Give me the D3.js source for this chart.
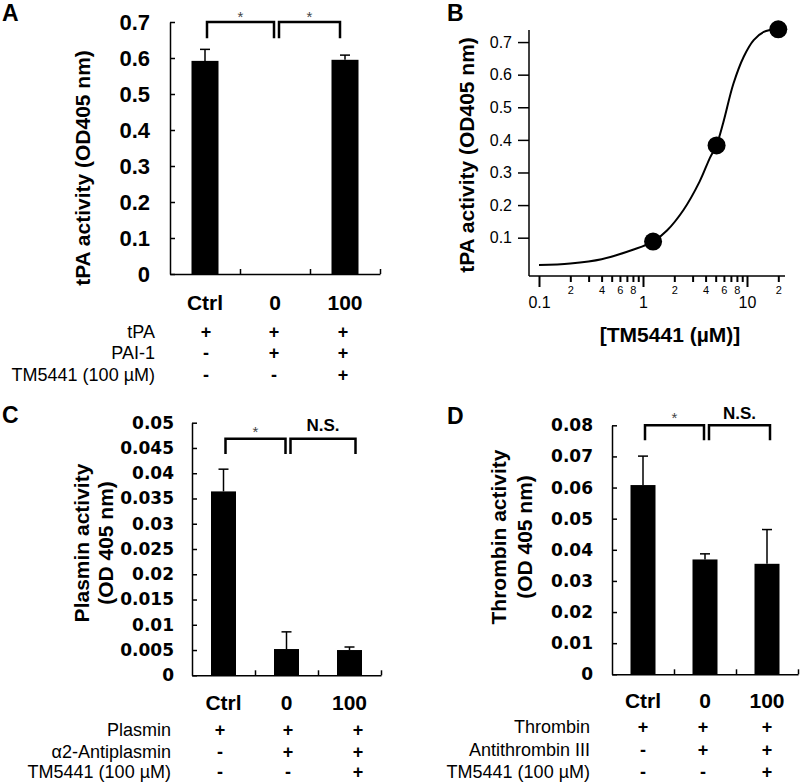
<!DOCTYPE html>
<html><head><meta charset="utf-8">
<script src="https://cdn.jsdelivr.net/npm/d3@7"></script>
<style>
body{margin:0;background:#fff}
svg{display:block;font-family:"Liberation Sans",Arial,Helvetica,sans-serif}
</style>
</head><body>
<svg id="chart" width="800" height="784"></svg>
<script>
// ---------- data ----------
const categories = ["Ctrl", "0", "100"];

const tpaMean = [0.592, 0, 0.595];
const tpaErr = [0.032, 0, 0.013];
const tpaTicks = [0, 0.1, 0.2, 0.3, 0.4, 0.5, 0.6, 0.7];
const tpaRows = ["tPA", "PAI-1", "TM5441 (100 µM)"];
const tpaSigns = [["+", "+", "+"], ["-", "+", "+"], ["-", "-", "+"]];
const tpaSig = [{from: 0, to: 1, label: "*"}, {from: 1, to: 2, label: "*"}];

const plasminMean = [0.0364, 0.0052, 0.0050];
const plasminErr = [0.0044, 0.0034, 0.0006];
const plasminTicks = [0, 0.005, 0.01, 0.015, 0.02, 0.025, 0.03, 0.035, 0.04, 0.045, 0.05];
const plasminRows = ["Plasmin", "α2-Antiplasmin", "TM5441 (100 µM)"];
const plasminSigns = [["+", "+", "+"], ["-", "+", "+"], ["-", "-", "+"]];
const plasminSig = [{from: 0, to: 1, label: "*"}, {from: 1, to: 2, label: "N.S."}];

const thrombinMean = [0.0608, 0.0369, 0.0355];
const thrombinErr = [0.0093, 0.0018, 0.0110];
const thrombinTicks = [0, 0.01, 0.02, 0.03, 0.04, 0.05, 0.06, 0.07, 0.08];
const thrombinRows = ["Thrombin", "Antithrombin III", "TM5441 (100 µM)"];
const thrombinSigns = [["+", "+", "+"], ["-", "+", "+"], ["-", "-", "+"]];
const thrombinSig = [{from: 0, to: 1, label: "*"}, {from: 1, to: 2, label: "N.S."}];

// Panel B: dose response
const doseX = [1.25, 5.1, 20];
const doseY = [0.088, 0.383, 0.739];
const fitX = [0.1, 0.2, 0.4, 0.8, 1.25, 1.7, 2.45, 3.5, 4.4, 5.1, 5.9, 7.4, 9.3, 11.6, 14.5, 19.4];
const fitY = [0.016, 0.021, 0.034, 0.063, 0.088, 0.122, 0.185, 0.272, 0.345, 0.385, 0.452, 0.572, 0.655, 0.706, 0.731, 0.739];
const doseYTicks = [0.1, 0.2, 0.3, 0.4, 0.5, 0.6, 0.7];
const doseMajor = [0.1, 1, 10];
const doseMinor = [0.2, 0.3, 0.4, 0.5, 0.6, 0.7, 0.8, 0.9, 2, 3, 4, 5, 6, 7, 8, 9, 20];
const doseMinorLabeled = [0.2, 0.4, 0.6, 0.8, 2, 4, 6, 8, 20];

// ---------- drawing ----------
const svg = d3.select("#chart");
const SANS = "Liberation Sans, Arial, Helvetica, sans-serif";

function barPanel(o) {
  const g = svg.append("g");
  const x = d3.scaleBand().domain(categories).range([o.x0, o.x1]);
  const xi = d3.scaleLinear().domain([0, categories.length]).range([o.x0, o.x1]);
  const y = d3.scaleLinear().domain([0, o.max]).range([o.yBottom, o.yTop]);
  const cx = c => x(c) + x.bandwidth() / 2;

  // y axis (ticks inward)
  const ya = g.append("g").attr("transform", `translate(${o.x0},0)`)
    .call(d3.axisLeft(y).tickValues(o.ticks).tickSizeInner(-5).tickSizeOuter(0)
      .tickPadding(o.tickPad).tickFormat(d => String(d)));
  ya.selectAll("path,line").attr("stroke", "#000").attr("stroke-width", 1.5);
  ya.selectAll("text").attr("font-family", o.tickFamily).attr("font-size", o.tickSize)
    .attr("font-weight", "bold").attr("fill", "#000");

  // x axis (boundary ticks inward)
  const xa = g.append("g").attr("transform", `translate(0,${o.yBottom})`)
    .call(d3.axisBottom(xi).tickValues(d3.range(1, categories.length + 1)).tickSizeInner(-5)
      .tickSizeOuter(0).tickFormat(""));
  xa.selectAll("path,line").attr("stroke", "#000").attr("stroke-width", 1.5);

  // bars
  g.selectAll("rect.bar").data(categories).join("rect").attr("class", "bar")
    .attr("x", c => cx(c) - o.barW / 2).attr("width", o.barW)
    .attr("y", (c, i) => y(o.mean[i])).attr("height", (c, i) => y(0) - y(o.mean[i]))
    .attr("fill", "#000");

  // error bars (upper only)
  categories.forEach((c, i) => {
    if (o.err[i] <= 0) return;
    const top = y(o.mean[i] + o.err[i]);
    g.append("line").attr("x1", cx(c)).attr("x2", cx(c)).attr("y1", y(o.mean[i])).attr("y2", top)
      .attr("stroke", "#000").attr("stroke-width", 1.5);
    g.append("line").attr("x1", cx(c) - 5).attr("x2", cx(c) + 5).attr("y1", top).attr("y2", top)
      .attr("stroke", "#000").attr("stroke-width", 1.5);
  });

  // significance brackets
  o.sig.forEach((s, k) => {
    const x1 = cx(categories[s.from]) + (k === 0 ? 2 : 4);
    const x2 = cx(categories[s.to]) - (k === 0 ? 1 : -o.rightShift);
    const yt = y(o.brTop), yb = y(o.brBottom);
    g.append("path").attr("d", `M${x1},${yb}V${yt}H${x2}V${yb}`)
      .attr("fill", "none").attr("stroke", "#000").attr("stroke-width", 2.5);
    const isStar = s.label === "*";
    g.append("text").attr("x", (x1 + x2) / 2)
      .attr("y", yt - (isStar ? o.starGap : o.nsGap))
      .attr("text-anchor", "middle")
      .attr("font-size", isStar ? 15 : 17)
      .attr("font-weight", isStar ? "normal" : "bold")
      .attr("fill", isStar ? "#444" : "#000")
      .text(s.label);
  });

  // category labels
  g.selectAll("text.cat").data(categories).join("text").attr("class", "cat")
    .attr("x", c => cx(c)).attr("y", o.catY).attr("text-anchor", "middle")
    .attr("font-size", 21).attr("font-weight", "bold").text(c => c);

  // condition rows
  o.rows.forEach((r, ri) => {
    g.append("text").attr("x", o.rowRight).attr("y", o.rowY[ri]).attr("dy", "0.36em")
      .attr("text-anchor", "end").attr("font-size", 18).text(r);
    categories.forEach((c, ci) => {
      g.append("text").attr("x", o.signX ? o.signX[ci] : cx(c)).attr("y", o.rowY[ri]).attr("dy", "0.36em")
        .attr("text-anchor", "middle").attr("font-size", 18).attr("font-weight", "bold")
        .text(o.signs[ri][ci]);
    });
  });

  // y title
  o.title.forEach((t, ti) => {
    g.append("text").attr("transform", `translate(${o.titleX[ti]},${o.titleY}) rotate(-90)`)
      .attr("text-anchor", "middle").attr("dy", "0.36em")
      .attr("font-size", 21).attr("font-weight", "bold").text(t);
  });

  // panel letter
  g.append("text").attr("x", o.letterX).attr("y", o.letterY).attr("font-size", 23)
    .attr("font-weight", "bold").text(o.letter);
}

barPanel({
  x0: 170, x1: 380, yTop: 22, yBottom: 274, max: 0.7,
  mean: tpaMean, err: tpaErr, ticks: tpaTicks,
  tickFamily: SANS, tickSize: 22, tickPad: 20,
  barW: 27, sig: tpaSig, brTop: 0.7, brBottom: 0.655, rightShift: -5,
  starGap: 0.5, nsGap: 6,
  catY: 310, rows: tpaRows, signs: tpaSigns, rowRight: 155, rowY: [332, 353, 375],
  signX: [206, 274, 343],
  title: ["tPA activity (OD405 nm)"], titleX: [82], titleY: 168,
  letter: "A", letterX: 2, letterY: 21
});

barPanel({
  x0: 192, x1: 381, yTop: 422.7, yBottom: 675.3, max: 0.05,
  mean: plasminMean, err: plasminErr, ticks: plasminTicks,
  tickFamily: "DejaVu Sans, sans-serif", tickSize: 17, tickPad: 18,
  barW: 25, sig: plasminSig, brTop: 0.0468, brBottom: 0.0438, rightShift: 6,
  starGap: 2, nsGap: 8,
  catY: 710, rows: plasminRows, signs: plasminSigns, rowRight: 171, rowY: [730, 752, 772],
  signX: [220, 288, 358],
  title: ["Plasmin activity", "(OD 405 nm)"], titleX: [81, 105], titleY: 543,
  letter: "C", letterX: 2, letterY: 423
});

barPanel({
  x0: 612, x1: 798, yTop: 425.3, yBottom: 674.3, max: 0.08,
  mean: thrombinMean, err: thrombinErr, ticks: thrombinTicks,
  tickFamily: "DejaVu Sans, sans-serif", tickSize: 17, tickPad: 19,
  barW: 25, sig: thrombinSig, brTop: 0.08, brBottom: 0.0752, rightShift: 3,
  starGap: 2, nsGap: 6,
  catY: 708, rows: thrombinRows, signs: thrombinSigns, rowRight: 590, rowY: [727, 750, 772],
  signX: [643, 703, 767],
  title: ["Thrombin activity", "(OD 405 nm)"], titleX: [498, 524], titleY: 537,
  letter: "D", letterX: 447, letterY: 424
});

// ---------- Panel B ----------
(function () {
  const g = svg.append("g");
  const x = d3.scaleLog().domain([0.1, 20]).range([539, 778.3]);
  const y = d3.scaleLinear().domain([-0.0175, 0.737]).range([276, 30]);
  const xAxisY = 276, yAxisX = 529;

  // axis lines
  g.append("line").attr("x1", yAxisX).attr("x2", yAxisX).attr("y1", y.range()[1]).attr("y2", xAxisY)
    .attr("stroke", "#000").attr("stroke-width", 1.5);
  g.append("line").attr("x1", yAxisX).attr("x2", 785).attr("y1", xAxisY).attr("y2", xAxisY)
    .attr("stroke", "#000").attr("stroke-width", 1.5);

  // y axis ticks
  const ya = g.append("g").attr("transform", `translate(${yAxisX},0)`)
    .call(d3.axisLeft(y).tickValues(doseYTicks).tickSizeInner(11).tickSizeOuter(0).tickPadding(6)
      .tickFormat(d3.format(".1f")));
  ya.select(".domain").remove();
  ya.selectAll("line").attr("stroke", "#000").attr("stroke-width", 1.5);
  ya.selectAll("text").attr("font-family", SANS).attr("font-size", 16).attr("fill", "#000");

  // x major ticks
  const xa = g.append("g").attr("transform", `translate(0,${xAxisY})`)
    .call(d3.axisBottom(x).tickValues(doseMajor).tickSizeInner(11).tickSizeOuter(0).tickPadding(10)
      .tickFormat(d => d === 0.1 ? "0.1" : String(d)));
  xa.select(".domain").remove();
  xa.selectAll("line").attr("stroke", "#000").attr("stroke-width", 2);
  xa.selectAll("text").attr("font-family", SANS).attr("font-size", 16).attr("fill", "#000");

  // x minor ticks
  const xm = g.append("g").attr("transform", `translate(0,${xAxisY})`)
    .call(d3.axisBottom(x).tickValues(doseMinor).tickSizeInner(6).tickSizeOuter(0).tickPadding(4)
      .tickFormat(d => doseMinorLabeled.includes(d) ? String(Math.round(d / Math.pow(10, Math.floor(Math.log10(d) + 1e-9)))) : ""));
  xm.select(".domain").remove();
  xm.selectAll("line").attr("stroke", "#000").attr("stroke-width", 2);
  xm.selectAll("text").attr("font-family", SANS).attr("font-size", 11).attr("fill", "#000");

  // fitted curve
  const fit = fitX.map((v, i) => [v, fitY[i]]);
  g.append("path").datum(fit)
    .attr("d", d3.line().x(d => x(d[0])).y(d => y(d[1])).curve(d3.curveCatmullRom.alpha(0.5)))
    .attr("fill", "none").attr("stroke", "#000").attr("stroke-width", 2);

  // points
  g.selectAll("circle").data(doseX.map((v, i) => [v, doseY[i]])).join("circle")
    .attr("cx", d => x(d[0])).attr("cy", d => y(d[1])).attr("r", 9).attr("fill", "#000");

  // titles
  g.append("text").attr("x", 670).attr("y", 342).attr("text-anchor", "middle")
    .attr("font-size", 21).attr("font-weight", "bold").text("[TM5441 (µM)]");
  g.append("text").attr("transform", `translate(466,155) rotate(-90)`).attr("text-anchor", "middle")
    .attr("dy", "0.36em").attr("font-size", 21).attr("font-weight", "bold").text("tPA activity (OD405 nm)");
  g.append("text").attr("x", 447).attr("y", 21).attr("font-size", 23).attr("font-weight", "bold").text("B");
})();
</script>
</body></html>
